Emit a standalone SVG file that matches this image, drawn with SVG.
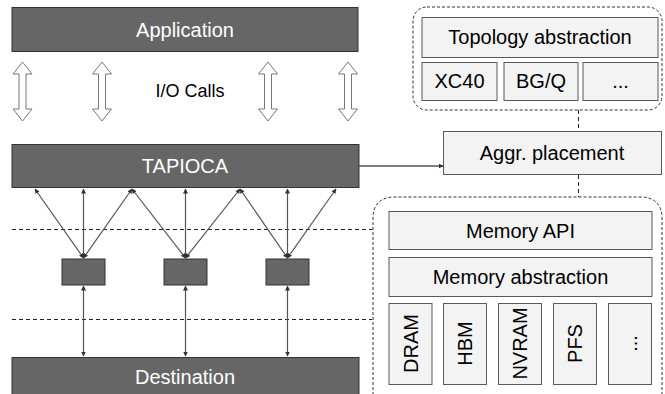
<svg xmlns="http://www.w3.org/2000/svg" width="665" height="394" viewBox="0 0 665 394">
<style>
.dark{fill:#666666;stroke:#333333;stroke-width:1}
.light{fill:#f3f3f3;stroke:#595959;stroke-width:1}
.dt{font-family:"Liberation Sans",Arial,sans-serif;font-size:20px;fill:#ffffff;text-anchor:middle}
.lt{font-family:"Liberation Sans",Arial,sans-serif;font-size:20px;fill:#000000;text-anchor:middle}
.grp{fill:none;stroke:#333333;stroke-width:1;stroke-dasharray:3,2}
.dash{fill:none;stroke:#222222;stroke-width:1;stroke-dasharray:4,3}
.con{fill:none;stroke:#555555;stroke-width:1.2;marker-start:url(#ah);marker-end:url(#ah)}
.one{fill:none;stroke:#555555;stroke-width:1.5;marker-end:url(#ah)}
.dbl{fill:#ffffff;stroke:#777777;stroke-width:1}
</style>
<defs>
<marker id="ah" viewBox="0 0 10 10" refX="9" refY="5" markerWidth="5" markerHeight="5" orient="auto-start-reverse" markerUnits="userSpaceOnUse">
<path d="M0,0 L10,5 L0,10 Z" fill="#333333"/>
</marker>
</defs>
<rect width="665" height="394" fill="#ffffff"/>

<g id="application"><rect class="dark" x="12" y="7.5" width="346" height="44"/><text class="dt" x="185" y="37">Application</text></g>

<g id="io-arrows">
<path class="dbl" d="M22.5,62 L32,74 L26,74 L26,109 L32,109 L22.5,121 L13,109 L19,109 L19,74 L13,74 Z"/>
<path class="dbl" d="M102,62 L111.5,74 L105.5,74 L105.5,109 L111.5,109 L102,121 L92.5,109 L98.5,109 L98.5,74 L92.5,74 Z"/>
<path class="dbl" d="M268,62 L277.5,74 L271.5,74 L271.5,109 L277.5,109 L268,121 L258.5,109 L264.5,109 L264.5,74 L258.5,74 Z"/>
<path class="dbl" d="M348,62 L357.5,74 L351.5,74 L351.5,109 L357.5,109 L348,121 L338.5,109 L344.5,109 L344.5,74 L338.5,74 Z"/>
<text class="lt" x="190" y="97" style="font-size:18px">I/O Calls</text>
</g>

<g id="tapioca"><rect class="dark" x="12" y="144.5" width="347" height="43"/><text class="dt" x="185" y="173">TAPIOCA</text></g>

<g id="separators">
<line class="dash" x1="12" y1="229.5" x2="372" y2="229.5"/>
<line class="dash" x1="12" y1="319.5" x2="372" y2="319.5"/>
</g>

<g id="agg1"><rect class="dark" x="62" y="259" width="43" height="26"/></g>
<g id="agg2"><rect class="dark" x="164" y="259" width="43" height="26"/></g>
<g id="agg3"><rect class="dark" x="266" y="259" width="43" height="26"/></g>

<g id="destination"><rect class="dark" x="12" y="357.5" width="347" height="40"/><text class="dt" x="185" y="384">Destination</text></g>

<g id="topology-group">
<rect class="grp" x="413" y="7" width="249" height="103" rx="14"/>
<g id="topology"><rect class="light" x="422" y="17.5" width="236" height="40"/><text class="lt" x="540" y="44">Topology abstraction</text></g>
<g id="xc40"><rect class="light" x="422" y="62.5" width="75" height="38"/><text class="lt" x="459.5" y="88">XC40</text></g>
<g id="bgq"><rect class="light" x="504" y="62.5" width="74" height="38"/><text class="lt" x="541" y="88">BG/Q</text></g>
<g id="topo-more"><rect class="light" x="583" y="62.5" width="75" height="38"/><text class="lt" x="620.5" y="88">...</text></g>
</g>

<g id="aggr-placement"><rect class="light" x="443.5" y="131.5" width="218" height="43"/><text class="lt" x="552" y="160">Aggr. placement</text></g>

<g id="memory-group">
<path class="grp" d="M373,420 L373,219 Q373,197 395,197 L640,197 Q662,197 662,219 L662,420"/>
<g id="memory-api"><rect class="light" x="389" y="211.5" width="263" height="38"/><text class="lt" x="520.5" y="238">Memory API</text></g>
<g id="memory-abs"><rect class="light" x="389" y="257.5" width="263" height="39"/><text class="lt" x="520.5" y="284">Memory abstraction</text></g>
<g id="dram"><rect class="light" x="389" y="303.5" width="43" height="81"/><text class="lt" transform="translate(417.5,343.5) rotate(-90)">DRAM</text></g>
<g id="hbm"><rect class="light" x="443.5" y="303.5" width="43" height="81"/><text class="lt" transform="translate(472,343.5) rotate(-90)">HBM</text></g>
<g id="nvram"><rect class="light" x="498.5" y="303.5" width="43" height="81"/><text class="lt" transform="translate(527,343.5) rotate(-90)">NVRAM</text></g>
<g id="pfs"><rect class="light" x="553.5" y="303.5" width="43" height="81"/><text class="lt" transform="translate(582,343.5) rotate(-90)">PFS</text></g>
<g id="mem-more"><rect class="light" x="608.5" y="303.5" width="43" height="81"/><text class="lt" transform="translate(637,343.5) rotate(-90)">...</text></g>
</g>

<g id="connectors">
<line class="con" x1="35" y1="189" x2="83.5" y2="258"/>
<line class="con" x1="83.5" y1="189" x2="83.5" y2="258"/>
<line class="con" x1="132" y1="189" x2="83.5" y2="258"/>
<line class="con" x1="132" y1="189" x2="185.5" y2="258"/>
<line class="con" x1="185.5" y1="189" x2="185.5" y2="258"/>
<line class="con" x1="240" y1="189" x2="185.5" y2="258"/>
<line class="con" x1="240" y1="189" x2="287.5" y2="258"/>
<line class="con" x1="287.5" y1="189" x2="287.5" y2="258"/>
<line class="con" x1="336" y1="189" x2="287.5" y2="258"/>
<line class="con" x1="83.5" y1="286" x2="83.5" y2="356"/>
<line class="con" x1="185.5" y1="286" x2="185.5" y2="356"/>
<line class="con" x1="287.5" y1="286" x2="287.5" y2="356"/>
<line class="one" x1="359" y1="166" x2="443" y2="166"/>
<line class="dash" x1="578.5" y1="110" x2="578.5" y2="131"/>
<line class="dash" x1="578.5" y1="175" x2="578.5" y2="197"/>
</g>
</svg>
